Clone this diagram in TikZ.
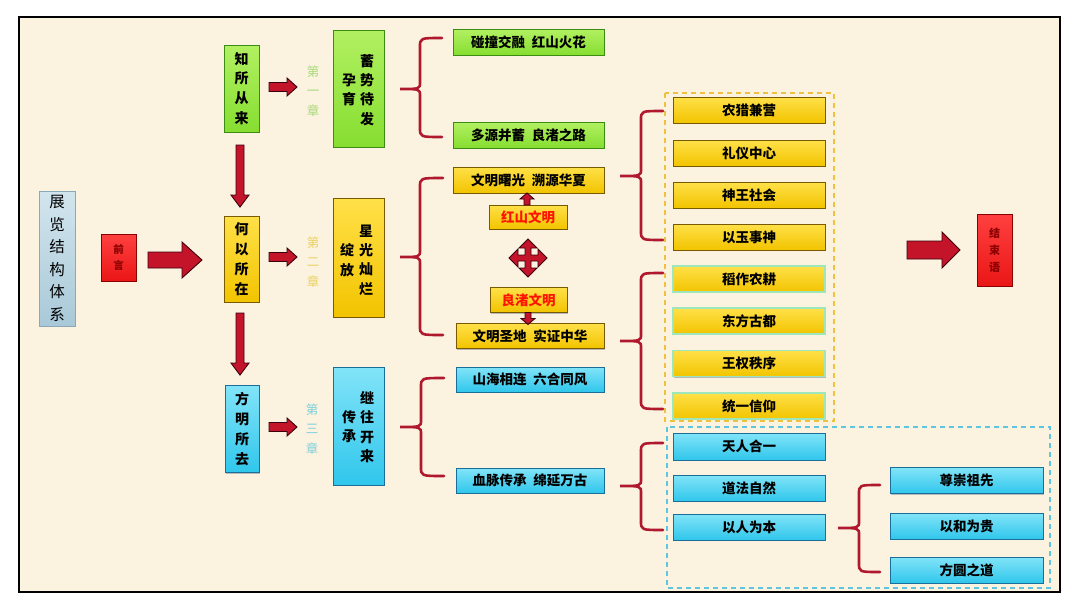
\documentclass[tikz,border=0pt]{standalone}
\usepackage{fontspec}
\newfontfamily\cjk{Noto Sans CJK SC}
\usetikzlibrary{shadows}
\definecolor{bgc}{HTML}{FCF2E0}
\definecolor{gfill}{HTML}{86DE30}\definecolor{gtop}{HTML}{B2F062}\definecolor{gline}{HTML}{3C8C14}
\definecolor{yfill}{HTML}{F2C400}\definecolor{ytop}{HTML}{FFE048}\definecolor{yline}{HTML}{7A5A00}
\definecolor{cfill}{HTML}{30C6EC}\definecolor{ctop}{HTML}{82E4F8}\definecolor{cline}{HTML}{1A6E9A}
\definecolor{rfill}{HTML}{EA1616}\definecolor{rtop}{HTML}{FF4040}\definecolor{rline}{HTML}{8A0000}
\definecolor{sfill}{HTML}{A9C9D8}\definecolor{stop}{HTML}{D2E5EE}\definecolor{sline}{HTML}{8AA8B6}
\definecolor{afill}{HTML}{C4142A}\definecolor{aline}{HTML}{3A0010}
\definecolor{brc}{HTML}{B0182E}
\definecolor{lgreen}{HTML}{A6DA78}\definecolor{lyellow}{HTML}{E8D260}\definecolor{lcyan}{HTML}{7CD0DC}
\definecolor{ydash}{HTML}{F0C040}\definecolor{cdash}{HTML}{5EC6DE}
\definecolor{glowc}{HTML}{9EE6BC}
\newcommand\blkarrow[7]{% x y angle length shafthw headhw headlen
  \begin{scope}[shift={(#1,#2)},rotate=#3]
    \draw[arrowsty] (0,-#5) -- ({#4-#7},-#5) -- ({#4-#7},-#6) -- (#4,0) -- ({#4-#7},#6) -- ({#4-#7},#5) -- (0,#5) -- cycle;
  \end{scope}}
\newcommand\cbrace[6]{% tipx tipy vx y1 y2 armx
  \draw[bracesty] (#6,#4) .. controls (#3,#4) .. (#3,{#4+9}) -- (#3,{#2-7}) .. controls (#3,#2) .. (#1,#2)
     .. controls (#3,#2) .. (#3,{#2+7}) -- (#3,{#5-9}) .. controls (#3,#5) .. (#6,#5);}
\begin{document}
\begin{tikzpicture}[x=1pt,y=-1pt,
  box/.style={draw, line width=0.9pt, inner sep=0pt, font=\cjk\bfseries\fontsize{13.5}{16}\selectfont,
     general shadow={fill=black!28, shadow xshift=1.3pt, shadow yshift=-1.3pt}},
  gbox/.style={box, top color=gtop, bottom color=gfill, draw=gline},
  ybox/.style={box, top color=ytop, bottom color=yfill, draw=yline},
  yboxg/.style={box, top color=ytop, bottom color=yfill, draw=glowc, line width=1.3pt},
  cbox/.style={box, top color=ctop, bottom color=cfill, draw=cline},
  rbox/.style={box, top color=rtop, bottom color=rfill, draw=rline},
  sbox/.style={box, top color=stop, bottom color=sfill, draw=sline},
  vtext/.style={align=center, inner sep=0pt, font=\cjk\bfseries\fontsize{14}{19.8}\selectfont},
  ctext/.style={align=center, inner sep=0pt, font=\cjk\bfseries\fontsize{14}{19.3}\selectfont},
  chlab/.style={align=center, inner sep=0pt, font=\cjk\fontsize{12.5}{19.5}\selectfont},
  wide/.style={minimum width=151, minimum height=26},
  small/.style={minimum width=152, minimum height=26},
  arrowsty/.style={fill=afill, draw=aline, line width=0.9pt, line join=miter},
  bracesty/.style={draw=brc, line width=2.6pt, line cap=round}]
\useasboundingbox (0,0) rectangle (1080,608);
\fill[white] (0,0) rectangle (1080,608);
\draw[fill=bgc, line width=1.5pt] (19,17) rectangle (1060,592);
% dashed groups
\draw[ydash, dashed, line width=1.3pt, dash pattern=on 5pt off 4pt] (665,93) rectangle (834,421);
\draw[cdash, dashed, line width=1.3pt, dash pattern=on 5pt off 4pt] (667,427) rectangle (1050,588);
% left
\node[sbox, minimum width=36, minimum height=135, align=center, font=\cjk\fontsize{15.5}{22.5}\selectfont] (sys) at (57,258.5) {展\\览\\结\\构\\体\\系};
\node[rbox, minimum width=35, minimum height=47, align=center, text=rline, font=\cjk\bfseries\fontsize{10.5}{16}\selectfont] (qy) at (118.5,257.5) {前\\言};
\node[gbox, minimum width=35, minimum height=87, vtext] (z1) at (241.5,88.5) {知\\所\\从\\来};
\node[ybox, minimum width=35, minimum height=86, vtext] (z2) at (241.5,259) {何\\以\\所\\在};
\node[cbox, minimum width=34, minimum height=87, vtext] (z3) at (242,429) {方\\明\\所\\去};
% chapter labels
\node[chlab, text=lgreen] (l1) at (313,91) {第\\一\\章};
\node[chlab, text=lyellow] (l2) at (313,262) {第\\二\\章};
\node[chlab, text=lcyan] (l3) at (312,429) {第\\三\\章};
% chapter boxes
\node[gbox, minimum width=51, minimum height=117] (c1) at (358.5,88.5) {};
\node[ctext] (c1r) at (367,90) {蓄\\势\\待\\发};
\node[ctext] (c1l) at (349,90) {孕\\育};
\node[ybox, minimum width=51, minimum height=119] (c2) at (358.5,257.5) {};
\node[ctext] (c2r) at (366,260) {星\\光\\灿\\烂};
\node[ctext] (c2l) at (347,260) {绽\\放};
\node[cbox, minimum width=51, minimum height=118] (c3) at (358.5,426) {};
\node[ctext] (c3r) at (367,427) {继\\往\\开\\来};
\node[ctext] (c3l) at (349,427) {传\\承};
% second level
\node[gbox, wide] (g1) at (528.5,42) {碰撞交融\enspace 红山火花};
\node[gbox, wide] (g2) at (528.5,135) {多源并蓄\enspace 良渚之路};
\node[ybox, wide] (y1) at (528.5,180) {文明曙光\enspace 溯源华夏};
\node[ybox, minimum width=78, minimum height=24, text={red!85!orange}] (hs) at (528,217) {红山文明};
\node[ybox, minimum width=77, minimum height=25, text={red!85!orange}] (lz) at (528.5,300) {良渚文明};
\node[ybox, minimum width=148, minimum height=25] (y2) at (530,336) {文明圣地\enspace 实证中华};
\node[cbox, minimum width=148, minimum height=25] (cy1) at (530,379.5) {山海相连\enspace 六合同风};
\node[cbox, minimum width=148, minimum height=25] (cy2) at (530,480.5) {血脉传承\enspace 绵延万古};
% third level
\node[ybox, small] (r1) at (749,110) {农猎兼营};
\node[ybox, small] (r2) at (749,153) {礼仪中心};
\node[ybox, small] (r3) at (749,195) {神王社会};
\node[ybox, small] (r4) at (749,237) {以玉事神};
\node[yboxg, small] (r5) at (749,279) {稻作农耕};
\node[yboxg, small] (r6) at (749,321) {东方古都};
\node[yboxg, small] (r7) at (749,363.5) {王权秩序};
\node[yboxg, small] (r8) at (749,406) {统一信仰};
\node[cbox, small, minimum height=27] (t1) at (749,446.5) {天人合一};
\node[cbox, small] (t2) at (749,488) {道法自然};
\node[cbox, small] (t3) at (749,527) {以人为本};
\node[cbox, minimum width=153, minimum height=26] (f1) at (966.5,480.5) {尊崇祖先};
\node[cbox, minimum width=153, minimum height=26] (f2) at (966.5,526) {以和为贵};
\node[cbox, minimum width=153, minimum height=26] (f3) at (966.5,570) {方圆之道};
\node[rbox, minimum width=35, minimum height=72, align=center, text=rline, font=\cjk\bfseries\fontsize{11}{17}\selectfont] (js) at (994.5,250) {结\\束\\语};
% arrows
\blkarrow{148}{260}{0}{54}{8}{18}{20}
\blkarrow{907}{250}{0}{53}{9}{18}{18}
\blkarrow{240}{145}{-90}{62}{4}{9}{12}
\blkarrow{240}{313}{-90}{62}{4}{9}{12}
\blkarrow{269}{87}{0}{28}{4.5}{9}{10}
\blkarrow{269}{257}{0}{28}{4.5}{9}{10}
\blkarrow{269}{427}{0}{28}{4.5}{9}{10}
\blkarrow{527}{205}{90}{12}{3}{7}{6}
\blkarrow{528}{312.5}{-90}{12}{3}{7}{6}
% four-way arrow
\begin{scope}[shift={(528,258)}]
\draw[arrowsty] (3,-3) -- (10,-3) -- (10,-9) -- (19,0) -- (10,9) -- (10,3) -- (3,3)
  -- (3,10) -- (9,10) -- (0,19) -- (-9,10) -- (-3,10) -- (-3,3)
  -- (-10,3) -- (-10,9) -- (-19,0) -- (-10,-9) -- (-10,-3) -- (-3,-3)
  -- (-3,-10) -- (-9,-10) -- (0,-19) -- (9,-10) -- (3,-10) -- cycle;
\end{scope}
% braces
\cbrace{400}{89}{420}{38}{137}{442}
\cbrace{400}{257}{420}{178}{335}{443}
\cbrace{400}{427}{421}{378}{476}{444}
\cbrace{620}{176}{641}{111}{240}{663}
\cbrace{620}{341}{641}{273}{409}{663}
\cbrace{620}{486}{641}{443}{530}{663}
\cbrace{838}{528}{859}{485}{572}{880}
\end{tikzpicture}
\end{document}
